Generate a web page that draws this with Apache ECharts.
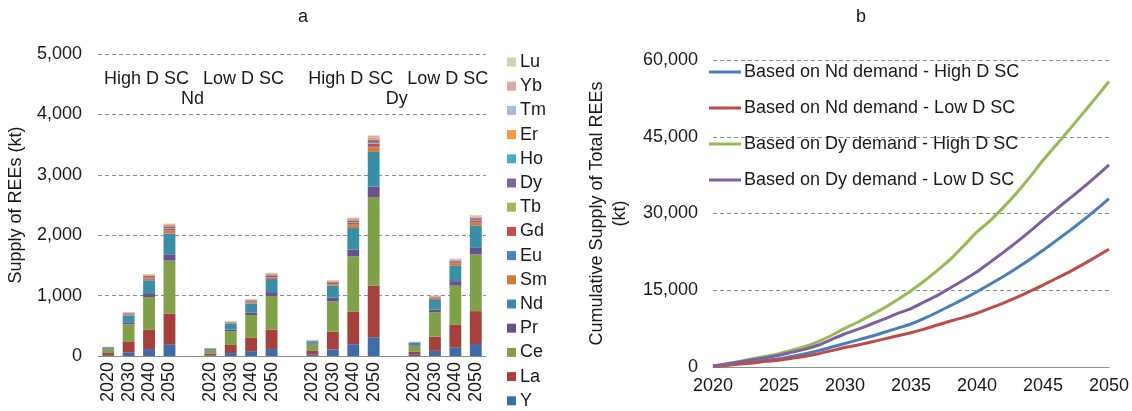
<!DOCTYPE html>
<html>
<head>
<meta charset="utf-8">
<script src="https://cdn.jsdelivr.net/npm/echarts@6/dist/echarts.min.js"></script>
<style>
  html, body { margin: 0; padding: 0; background: #fff; }
  #chart { width: 1132px; height: 411px; }
</style>
</head>
<body>
<div id="chart"></div>
<script>
// panel a: supply by element, 4 scenarios x 4 years
const years = ["2020", "2030", "2040", "2050"];
const scenarios = ["High D SC", "Low D SC", "High D SC", "Low D SC"];
const demandBasis = ["Nd", "Dy"];
const elements = ["Y", "La", "Ce", "Pr", "Nd", "Sm", "Eu", "Gd", "Tb", "Dy", "Ho", "Er", "Tm", "Yb", "Lu"];

const supplyY  = [13, 62, 115, 186, 11, 49, 80, 117, 22, 107, 195, 310, 20, 85, 137, 198];
const supplyLa = [36, 170, 317, 513, 31, 134, 220, 322, 62, 294, 536, 855, 55, 235, 378, 545];
const supplyCe = [62, 292, 545, 882, 53, 230, 379, 554, 106, 505, 921, 1468, 95, 403, 649, 937];
const supplyPr = [7, 34, 64, 103, 6, 27, 44, 65, 12, 59, 108, 172, 11, 47, 76, 110];
const supplyNd = [24, 114, 213, 344, 21, 90, 148, 216, 41, 197, 360, 574, 37, 157, 253, 366];
const supplySm = [3, 15, 27, 44, 3, 11, 19, 28, 5, 25, 46, 73, 5, 20, 32, 47];
const supplyEu = [0.5, 2, 4, 7, 0.4, 2, 3, 4, 0.8, 4, 7, 11, 0.7, 3, 5, 7];
const supplyGd = [2.3, 11, 20, 33, 2, 9, 14, 21, 4, 19, 34, 55, 3.6, 15, 24, 35];
const supplyTb = [0.5, 2.4, 4.5, 7, 0.4, 1.9, 3.1, 4.5, 0.9, 4.1, 7.6, 12, 0.8, 3.3, 5.3, 7.7];
const supplyDy = [1.8, 8.7, 16, 26, 1.6, 6.9, 11, 17, 3.2, 15, 28, 44, 2.8, 12, 19, 28];
const supplyHo = [0.5, 2.4, 4.5, 7, 0.4, 1.9, 3.1, 4.5, 0.9, 4.1, 7.6, 12, 0.8, 3.3, 5.3, 7.7];
const supplyEr = [1.2, 5.8, 11, 18, 1.1, 4.6, 7.5, 11, 2.1, 10, 18, 29, 1.9, 8, 13, 19];
const supplyTm = [0.2, 1, 1.9, 3.1, 0.2, 0.8, 1.3, 1.9, 0.4, 1.8, 3.2, 5.1, 0.3, 1.4, 2.3, 3.3];
const supplyYb = [1, 4.9, 9.2, 15, 0.9, 3.9, 6.4, 9.4, 1.8, 8.5, 15.6, 25, 1.6, 6.8, 11, 16];
const supplyLu = [0.4, 1.8, 3.4, 5.5, 0.3, 1.4, 2.4, 3.4, 0.7, 3.1, 5.7, 9.1, 0.6, 2.5, 4, 5.8];

// panel b: cumulative supply (kt)
const cumYears = ["2020", "2021", "2022", "2023", "2024", "2025", "2026", "2027", "2028", "2029",
  "2030", "2031", "2032", "2033", "2034", "2035", "2036", "2037", "2038", "2039",
  "2040", "2041", "2042", "2043", "2044", "2045", "2046", "2047", "2048", "2049", "2050"];
const ndHigh = [100, 400, 700, 1000, 1300, 1600, 2100, 2600, 3200, 3900, 4600, 5300, 6000, 6800, 7600, 8400,
  9500, 10700, 12000, 13300, 14700, 16200, 17700, 19300, 21000, 22800, 24700, 26600, 28600, 30700, 32900];
const ndLow = [100, 300, 600, 800, 1100, 1300, 1700, 2100, 2600, 3200, 3800, 4300, 4900, 5500, 6100, 6700,
  7400, 8200, 9000, 9700, 10500, 11500, 12500, 13600, 14800, 16000, 17300, 18600, 20000, 21500, 23000];
const dyHigh = [200, 600, 1100, 1600, 2100, 2600, 3300, 4000, 5000, 6200, 7600, 8800, 10200, 11600, 13200, 14900,
  16800, 18900, 21100, 23700, 26400, 28600, 31200, 34000, 37100, 40400, 43400, 46400, 49500, 52600, 55800];
const dyLow = [200, 600, 1000, 1400, 1800, 2300, 2900, 3500, 4300, 5400, 6500, 7400, 8400, 9400, 10500, 11400,
  12700, 14000, 15500, 17000, 18600, 20500, 22400, 24400, 26500, 28700, 30800, 32900, 35000, 37200, 39500];
const lineNames = [
  "Based on Nd demand - High D SC",
  "Based on Nd demand - Low D SC",
  "Based on Dy demand - High D SC",
  "Based on Dy demand - Low D SC"
];

const supply = {
  Y: supplyY, La: supplyLa, Ce: supplyCe, Pr: supplyPr, Nd: supplyNd, Sm: supplySm, Eu: supplyEu, Gd: supplyGd,
  Tb: supplyTb, Dy: supplyDy, Ho: supplyHo, Er: supplyEr, Tm: supplyTm, Yb: supplyYb, Lu: supplyLu
};
const elementColors = ["#3d6ca9", "#a5403d", "#80a04a", "#68518e", "#3a8fa6", "#d27b38", "#4f81bd", "#c0504d",
  "#9bbb59", "#8064a2", "#4bacc6", "#f79646", "#a7b9dd", "#dda5a4", "#c6d9aa"];
const lineColors = ["#4a7ebb", "#be4b48", "#98b954", "#7d60a0"];

const FONT = "'Liberation Sans', Arial, sans-serif";
const TXT = "#1a1a1a";
const GRID_LINE = { show: true, lineStyle: { color: "#8c8c8c", type: [4, 3], width: 1 } };

// 19 slots: 4 years per scenario with an empty slot between scenarios
const barCats = [];
scenarios.forEach((s, i) => {
  if (i > 0) barCats.push("");
  years.forEach((y) => barCats.push(y));
});
function toSlots(values) {
  const out = [];
  values.forEach((v, i) => {
    if (i > 0 && i % 4 === 0) out.push("-");
    out.push(v);
  });
  return out;
}
// fine hidden axis used to place the group captions above the bars
function captionSlots(texts, at) {
  const a = new Array(76).fill("");
  texts.forEach((t, i) => { a[at[i]] = t; });
  return a;
}

const chart = echarts.init(document.getElementById("chart"), null, { renderer: "canvas" });

const barSeries = elements.map((el, i) => ({
  name: el,
  type: "bar",
  stack: "ree",
  xAxisIndex: 0,
  yAxisIndex: 0,
  barCategoryGap: "42%",
  itemStyle: { color: elementColors[i] },
  data: toSlots(supply[el])
}));

const lineData = [ndHigh, ndLow, dyHigh, dyLow];
const lineSeries = lineNames.map((name, i) => ({
  name,
  type: "line",
  xAxisIndex: 3,
  yAxisIndex: 1,
  smooth: 0.2,
  symbol: "none",
  showSymbol: false,
  lineStyle: { color: lineColors[i], width: 3 },
  itemStyle: { color: lineColors[i] },
  data: lineData[i]
}));

chart.setOption({
  animation: false,
  textStyle: { fontFamily: FONT, color: TXT },
  title: [
    { text: "a", left: 298, top: 3, textAlign: "center", textStyle: { fontSize: 18, fontWeight: "normal", color: TXT, fontFamily: FONT } },
    { text: "b", left: 856, top: 3, textAlign: "center", textStyle: { fontSize: 18, fontWeight: "normal", color: TXT, fontFamily: FONT } }
  ],
  grid: [
    { left: 98, right: 646, top: 54, bottom: 55 },
    { left: 713, right: 22, top: 60, bottom: 44 }
  ],
  legend: [
    {
      data: elements.slice().reverse(),
      orient: "vertical",
      left: 507,
      top: 53,
      height: 400,
      padding: 0,
      itemWidth: 9,
      itemHeight: 9,
      itemGap: 6.2,
      icon: "rect",
      textStyle: { fontSize: 18, color: TXT, fontFamily: FONT, lineHeight: 18, padding: [0, 0, 0, -1] }
    },
    {
      data: lineNames,
      orient: "vertical",
      left: 709,
      top: 63,
      padding: 0,
      itemWidth: 32,
      itemHeight: 3,
      itemGap: 18,
      icon: "rect",
      textStyle: { fontSize: 18, color: TXT, fontFamily: FONT, lineHeight: 18, padding: [0, 0, 0, -2] }
    }
  ],
  xAxis: [
    {
      type: "category",
      gridIndex: 0,
      data: barCats,
      axisLine: { lineStyle: { color: "#8c8c8c" } },
      axisTick: { show: false },
      axisLabel: { interval: 0, rotate: 90, fontSize: 18, color: TXT, margin: 6, fontFamily: FONT }
    },
    {
      type: "category",
      gridIndex: 0,
      position: "top",
      offset: -25,
      data: captionSlots(scenarios, [9, 28, 49, 68]),
      axisLine: { show: false },
      axisTick: { show: false },
      axisLabel: { interval: 0, fontSize: 18, color: TXT, margin: 0, verticalAlign: "middle", fontFamily: FONT }
    },
    {
      type: "category",
      gridIndex: 0,
      position: "top",
      offset: -45,
      data: captionSlots(demandBasis, [18, 58]),
      axisLine: { show: false },
      axisTick: { show: false },
      axisLabel: { interval: 0, fontSize: 18, color: TXT, margin: 0, verticalAlign: "middle", fontFamily: FONT }
    },
    {
      type: "category",
      gridIndex: 1,
      data: cumYears,
      boundaryGap: false,
      axisLine: { lineStyle: { color: "#8c8c8c" } },
      axisTick: { show: false },
      axisLabel: { interval: 4, fontSize: 18, color: TXT, margin: 10, fontFamily: FONT }
    }
  ],
  yAxis: [
    {
      type: "value",
      gridIndex: 0,
      min: 0,
      max: 5000,
      interval: 1000,
      name: "Supply of REEs (kt)",
      nameLocation: "middle",
      nameGap: 73,
      nameTextStyle: { fontSize: 18, color: TXT, fontFamily: FONT },
      axisLine: { show: false },
      axisTick: { show: false },
      splitLine: GRID_LINE,
      axisLabel: { fontSize: 18, color: TXT, margin: 16, fontFamily: FONT, formatter: (v) => v.toLocaleString("en-US") }
    },
    {
      type: "value",
      gridIndex: 1,
      min: 0,
      max: 60000,
      interval: 15000,
      name: "Cumulative Supply of Total REEs\n(kt)",
      nameLocation: "middle",
      nameGap: 81,
      nameTextStyle: { fontSize: 18, color: TXT, fontFamily: FONT, lineHeight: 23 },
      axisLine: { show: false },
      axisTick: { show: false },
      splitLine: GRID_LINE,
      axisLabel: { fontSize: 18, color: TXT, margin: 15, fontFamily: FONT, formatter: (v) => v.toLocaleString("en-US") }
    }
  ],
  series: barSeries.concat(lineSeries)
});
</script>
</body>
</html>
